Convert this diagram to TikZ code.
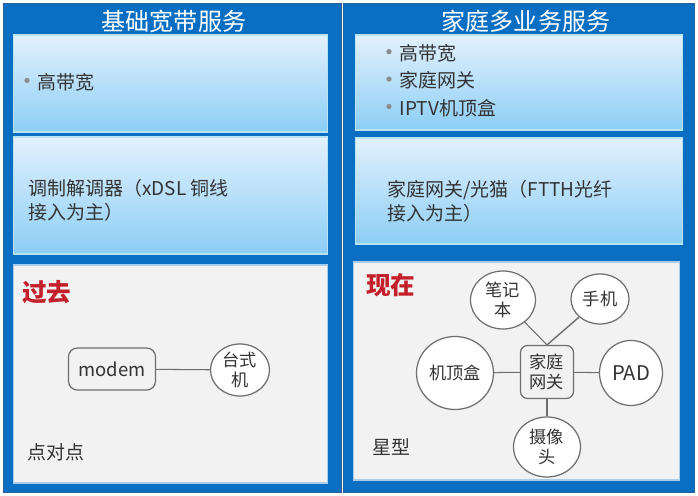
\documentclass[tikz,border=0pt]{standalone}
\usepackage{fontspec}
\setmainfont{Noto Sans CJK SC}
\usepackage{xcolor}
\usetikzlibrary{shapes.geometric}

\definecolor{frameblue}{HTML}{0A6FC2}
\definecolor{edgeblue}{HTML}{2B5F98}
\definecolor{boxtop}{HTML}{E2F1FD}
\definecolor{boxbot}{HTML}{8CCEF5}
\definecolor{boxedge}{HTML}{B8E3F2}
\definecolor{paper}{HTML}{F2F2F2}
\definecolor{paperedge}{HTML}{A9CDEB}
\definecolor{txt}{HTML}{333333}
\definecolor{past}{HTML}{C4202B}
\definecolor{wire}{HTML}{6E6E6E}
\definecolor{dotgray}{HTML}{8C8C8C}
\newcommand\itm{\makebox[0.27cm][l]{\raisebox{0.32em}{\tikz[x=1cm,y=1cm]\fill[dotgray] (0,0) circle (1.5pt);}}}

\begin{document}
\begin{tikzpicture}[x=0.02cm, y=-0.02cm,
  panel/.style={draw=edgeblue, fill=frameblue, line width=0.6pt, minimum height=9.8cm},
  infobox/.style={draw=boxedge, top color=boxtop, bottom color=boxbot, line width=0.6pt},
  graybox/.style={draw=paperedge, fill=paper, line width=0.6pt, minimum height=4.36cm},
  title/.style={text=white, font=\fontsize{13.7}{16}\selectfont},
  body/.style={anchor=west, inner sep=0pt, text=txt, align=left, font=\fontsize{10.8}{13.7}\selectfont},
  era/.style={anchor=west, inner sep=0pt, text=past, font=\fontsize{14}{16}\selectfont\bfseries},
  dev/.style={ellipse, draw=wire, fill=white, line width=0.7pt, inner sep=0pt, align=center,
              text=txt, font=\fontsize{9.8}{11.5}\selectfont},
  hub/.style={rectangle, rounded corners=4pt, draw=wire, fill=paper, line width=0.7pt, inner sep=0pt,
              align=center, text=txt, font=\fontsize{9.8}{11.5}\selectfont},
  link/.style={draw=wire, line width=0.6pt}
]
  \useasboundingbox (0,0) rectangle (698,496);
  \fill[white] (0,0) rectangle (698,496);

  % Panels
  \node[panel, minimum width=6.78cm] (lpanel) at (172.5,248) {};
  \node[panel, minimum width=7.04cm] (rpanel) at (519,248) {};
  \node[title] (ltitle) at (174,21) {基础宽带服务};
  \node[title] (rtitle) at (526,21) {家庭多业务服务};

  % Left column
  \node[infobox, minimum width=6.3cm, minimum height=1.94cm] (lbw)  at (170.5,83.5) {};
  \node[infobox, minimum width=6.3cm, minimum height=2.34cm] (lacc) at (170.5,195.5) {};
  \node[graybox, minimum width=6.3cm] (lpast) at (170.5,374) {};
  \node[body] (lbwtxt) at (24,82) {\itm 高带宽};
  \node[body] (lacctxt) at (28,200) {调制解调器（xDSL 铜线\\接入为主）};

  % Right column
  \node[infobox, minimum width=6.56cm, minimum height=1.9cm]  (rbw)  at (519,82.5) {};
  \node[infobox, minimum width=6.56cm, minimum height=2.12cm] (racc) at (519,191) {};
  \node[graybox, minimum width=6.54cm] (rnow) at (516.5,371) {};
  \node[body, font=\fontsize{10.8}{15.6}\selectfont] (rbwtxt) at (386,80.5)
    {\itm 高带宽\\\itm 家庭网关\\\itm IPTV机顶盒};
  \node[body] (racctxt) at (387,201) {家庭网关/光猫（FTTH光纤\\接入为主）};

  % Past: point to point
  \node[era] (pastlbl) at (22,292) {过去};
  \node[hub, minimum width=1.74cm, minimum height=0.84cm, rounded corners=5pt,
        font=\fontsize{10.5}{12}\selectfont] (modem) at (112,369) {modem};
  \node[dev, minimum width=1.18cm, minimum height=1.04cm] (desk) at (240,370) {台式\\机};
  \draw[link] (modem) -- (desk);
  \node[body] (p2p) at (27,452) {点对点};

  % Now: star
  \node[era] (nowlbl) at (366,285) {现在};
  \node[hub, minimum width=1.06cm, minimum height=1.06cm] (gw) at (547,372) {家庭\\网关};
  \node[dev, minimum width=1.3cm, minimum height=1.16cm]  (nb)    at (503,300) {笔记\\本};
  \node[dev, minimum width=1.16cm, minimum height=1.0cm]  (phone) at (600,299) {手机};
  \node[dev, minimum width=1.54cm, minimum height=1.46cm] (stb)   at (455,373) {机顶盒};
  \node[dev, minimum width=1.26cm, minimum height=1.3cm,
        font=\fontsize{11.5}{13}\selectfont]             (pad)   at (631,373) {PAD};
  \node[dev, minimum width=1.34cm, minimum height=1.2cm]  (cam)   at (547,447) {摄像\\头};
  \draw[link] (gw.north) -- (nb);
  \draw[link, line width=0.8pt] (gw.north) -- (phone);
  \draw[link] (stb) -- (gw);
  \draw[link] (gw) -- (pad);
  \draw[link] (gw) -- (cam);
  \node[body] (star) at (372,447) {星型};
\end{tikzpicture}
\end{document}
